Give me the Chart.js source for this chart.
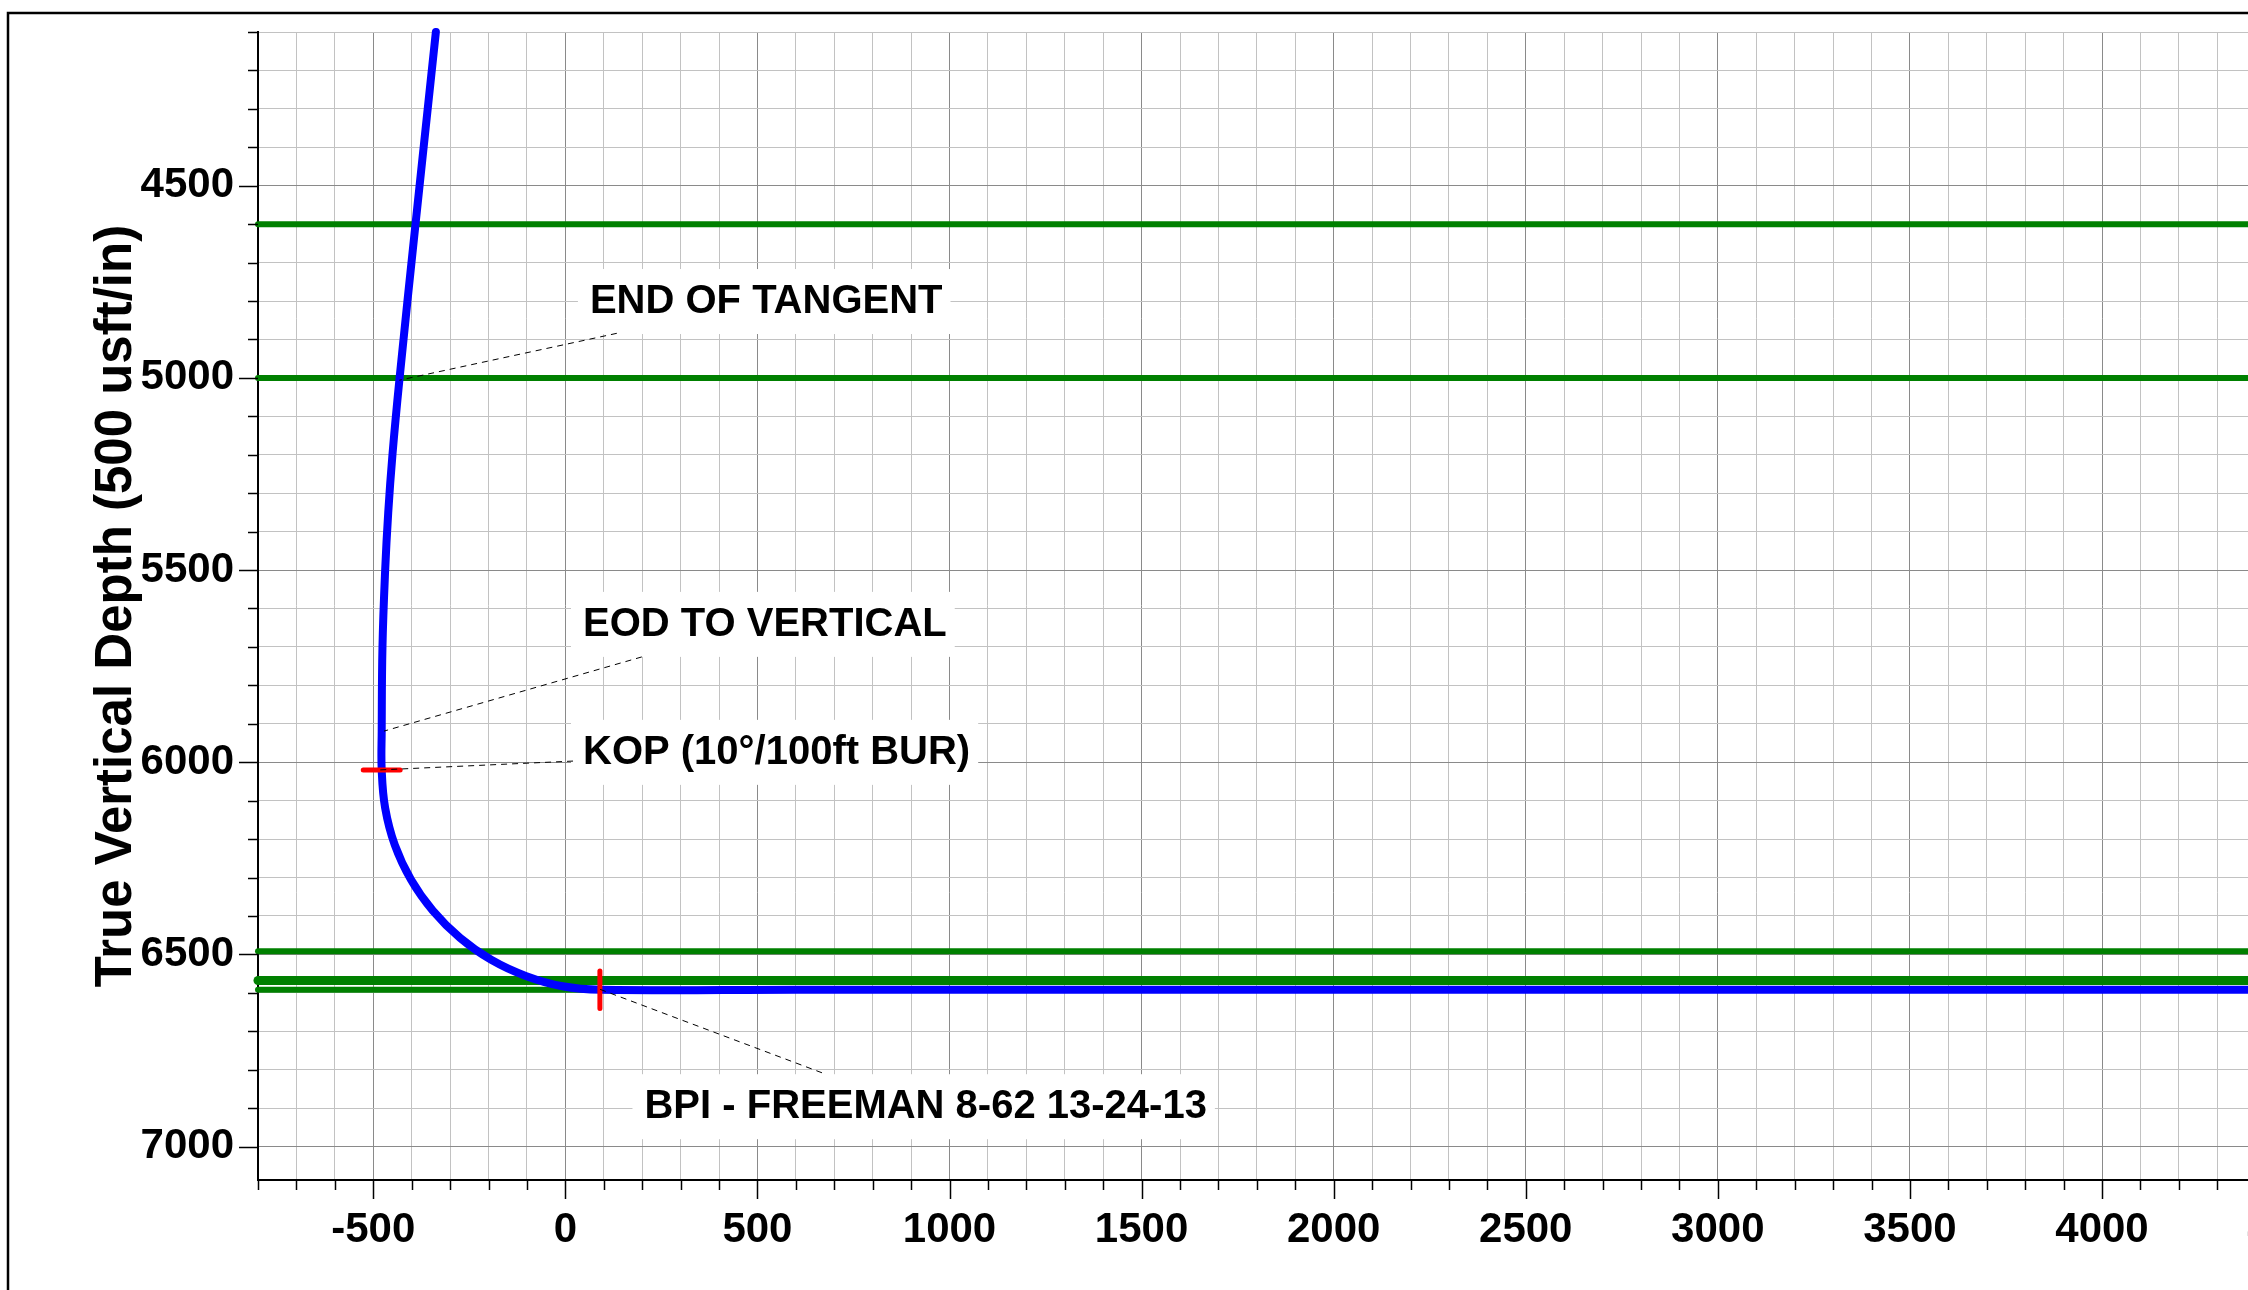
<!DOCTYPE html>
<html>
<head>
<meta charset="utf-8">
<script src="https://cdn.jsdelivr.net/npm/chart.js@4.4.0/dist/chart.umd.min.js"></script>
<style>
html,body{margin:0;padding:0;background:#fff;overflow:hidden;width:2248px;height:1290px;}
#wrap{position:absolute;left:0;top:0;width:2563px;height:1290px;}
canvas{display:block;}
</style>
</head>
<body>
<div id="wrap"><canvas id="c" width="2563" height="1290" style="width:2563px;height:1290px"></canvas></div>
<script>
// ---------- data ----------
const xTickValues = [-500, 0, 500, 1000, 1500, 2000, 2500, 3000, 3500, 4000, 4500, 5000];
const yTickValues = [4500, 5000, 5500, 6000, 6500, 7000];
const yTitle = 'True Vertical Depth (500 usft/in)';

// well path: vertical section (usft) vs true vertical depth (usft)
const wellX   = [-337, -390, -432, -450, -461, -469, -476, -478, -478, -469, -444, -402, -345, -274, -193, -103, -7, 92, 600, 5200];
const wellTVD = [4100, 4600, 5006, 5200, 5350, 5500, 5700, 5919, 6020, 6119, 6215, 6305, 6386, 6457, 6514, 6556, 6583, 6592, 6592, 6592];

// formation tops (TVD)
const formationTVD = [4600, 5000, 6492, 6568, 6592];
const formationXRange = [-800, 5200];

// red markers
const kopMarkX = [-526, -430];
const kopMarkTVD = [6020, 6020];
const landMarkX = [90, 90];
const landMarkTVD = [6543, 6641];

// annotation texts
const annoTexts = ['END OF TANGENT', 'EOD TO VERTICAL', 'KOP (10°/100ft BUR)', 'BPI - FREEMAN 8-62 13-24-13'];

// ---------- layout / style ----------
const X_MIN = -800, X_MAX = 5200, Y_MIN = 4100, Y_MAX = 7087;
const FONT = "'Liberation Sans', Arial, sans-serif";
const annoPlacement = [
  {tx: 64,  ty: 4800, sx: 134, sy: 4884, ex: -432, ey: 5006},
  {tx: 46,  ty: 5640, sx: 199, sy: 5726, ex: -472, ey: 5919},
  {tx: 46,  ty: 5973, sx: 20,  sy: 5997, ex: -482, ey: 6020},
  {tx: 206, ty: 6895, sx: 668, sy: 6808, ex: 88,   ey: 6590}
];

const toXY = (xs, ys) => xs.map((x, i) => ({x: x, y: ys[i]}));

const datasets = [];
datasets.push({data: toXY(landMarkX, landMarkTVD), borderColor: '#ff0000', borderWidth: 5, borderCapStyle: 'round', showLine: true, pointRadius: 0, clip: false});
datasets.push({data: toXY(kopMarkX, kopMarkTVD), borderColor: '#ff0000', borderWidth: 5, borderCapStyle: 'round', showLine: true, pointRadius: 0, clip: false});
datasets.push({data: toXY(wellX, wellTVD), borderColor: '#0000ff', borderWidth: 8, borderCapStyle: 'round', borderJoinStyle: 'round', showLine: true, pointRadius: 0, tension: 0.4, clip: false});
formationTVD.forEach((d, i) => {
  datasets.push({
    data: toXY(formationXRange, [d, d]),
    borderColor: '#008000', borderWidth: i === 3 ? 9 : 6, borderCapStyle: 'round',
    showLine: true, pointRadius: 0, clip: false
  });
});

const bgPlugin = {
  id: 'bg',
  beforeDraw(chart) {
    const c = chart.ctx;
    c.save(); c.fillStyle = '#fff'; c.fillRect(0, 0, chart.width, chart.height); c.restore();
  },
  afterDraw(chart) {
    const c = chart.ctx;
    c.save(); c.strokeStyle = '#000'; c.lineWidth = 2.5;
    c.strokeRect(8, 13, chart.width + 100, chart.height + 100);
    c.restore();
  }
};

const tickPlugin = {
  id: 'tickmarks',
  afterDraw(chart) {
    const c = chart.ctx, xs = chart.scales.x, ys = chart.scales.y;
    c.save(); c.strokeStyle = '#000'; c.lineWidth = 1.5;
    xs.ticks.forEach(t => {
      const p = Math.round(xs.getPixelForValue(t.value)) + 0.5;
      const len = (t.value % 500 === 0) ? 19 : 10;
      c.beginPath(); c.moveTo(p, xs.top); c.lineTo(p, xs.top + len); c.stroke();
    });
    ys.ticks.forEach(t => {
      const p = Math.round(ys.getPixelForValue(t.value)) + 0.5;
      const len = (t.value % 500 === 0) ? 19 : 10;
      c.beginPath(); c.moveTo(ys.right - len, p); c.lineTo(ys.right, p); c.stroke();
    });
    c.restore();
  }
};

const annoPlugin = {
  id: 'anno',
  afterDatasetsDraw(chart) {
    const c = chart.ctx, xs = chart.scales.x, ys = chart.scales.y;
    c.save();
    c.font = 'bold 40px ' + FONT;
    annoTexts.forEach((txt, i) => {
      const a = annoPlacement[i];
      const tx = xs.getPixelForValue(a.tx), ty = ys.getPixelForValue(a.ty);
      const w = c.measureText(txt).width;
      c.fillStyle = '#fff';
      c.fillRect(tx - 12, ty - 32, w + 20, 65);
      c.strokeStyle = '#000'; c.lineWidth = 1; c.setLineDash([6, 5]);
      c.beginPath();
      c.moveTo(xs.getPixelForValue(a.sx), ys.getPixelForValue(a.sy));
      c.lineTo(xs.getPixelForValue(a.ex), ys.getPixelForValue(a.ey));
      c.stroke();
      c.setLineDash([]);
      c.fillStyle = '#000'; c.textBaseline = 'middle'; c.textAlign = 'left';
      c.fillText(txt, tx, ty + 1);
    });
    c.restore();
  }
};

const gridColor = (ctx) => (ctx.tick && ctx.tick.value % 500 === 0) ? '#8a8a8a' : '#c2c2c2';

new Chart(document.getElementById('c'), {
  type: 'scatter',
  data: {datasets: datasets},
  options: {
    responsive: false,
    animation: false,
    layout: {padding: {left: 0, top: 32, right: 0, bottom: 0}},
    plugins: {legend: {display: false}, tooltip: {enabled: false}},
    scales: {
      x: {
        type: 'linear', position: 'bottom', min: X_MIN, max: X_MAX,
        ticks: {
          stepSize: 100, includeBounds: false, autoSkip: false, maxRotation: 0, minRotation: 0,
          padding: 25, color: '#000', font: {family: FONT, size: 42, weight: 'bold'},
          callback: v => xTickValues.includes(v) ? String(v) : ''
        },
        grid: {drawTicks: false, color: gridColor, lineWidth: 1},
        border: {display: true, color: '#000', width: 2},
        afterFit(s) { s.height = 110; s.paddingLeft = 0; s.paddingRight = 0; }
      },
      y: {
        type: 'linear', position: 'left', reverse: true, min: Y_MIN, max: Y_MAX,
        ticks: {
          stepSize: 100, includeBounds: false, autoSkip: false,
          padding: 24, color: '#000', font: {family: FONT, size: 42, weight: 'bold'},
          callback: v => yTickValues.includes(v) ? String(v) : ''
        },
        title: {display: true, text: yTitle, color: '#000', font: {family: FONT, size: 51, weight: 'bold'}, padding: {top: 86, bottom: 0}},
        grid: {drawTicks: false, color: gridColor, lineWidth: 1},
        border: {display: true, color: '#000', width: 2},
        afterFit(s) { s.width = 258; s.paddingTop = 0; s.paddingBottom = 0; }
      }
    }
  },
  plugins: [bgPlugin, tickPlugin, annoPlugin]
});
</script>
</body>
</html>
